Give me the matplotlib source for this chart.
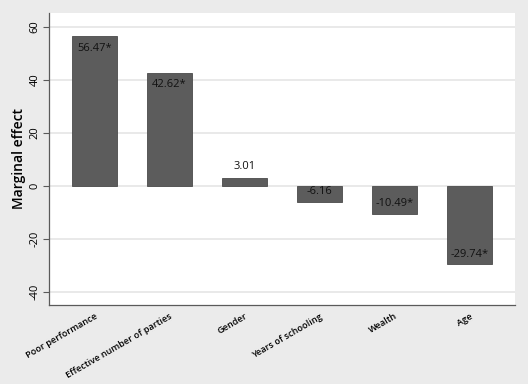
import numpy as np
import matplotlib
matplotlib.use("Agg")
import matplotlib.pyplot as plt

plt.rcParams['font.family'] = ['Open Sans', 'DejaVu Sans']

categories = ['Poor performance', 'Effective number of parties', 'Gender',
              'Years of schooling', 'Wealth', 'Age']
effects = [56.47, 42.62, 3.01, -6.16, -10.49, -29.74]
labels = ['56.47*', '42.62*', '3.01', '-6.16', '-10.49*', '-29.74*']
yticks = [-40, -20, 0, 20, 40, 60]

fig = plt.figure(figsize=(5.28, 3.84), dpi=100)
fig.patch.set_facecolor('#ebebeb')
ax = fig.add_axes([0.093, 0.206, 0.882, 0.76])
ax.set_facecolor('white')

x = np.arange(len(categories))
bars = ax.bar(x, effects, width=0.6, color='#5c5c5c', edgecolor='#4a4a4a',
              linewidth=0.6, zorder=3)

# value labels: inside the bar end, except tiny bars go outside
for xi, v, lab in zip(x, effects, labels):
    if v > 5:
        off = -8.6
    elif v >= 0:
        off = 8.0
    else:
        off = 7.3
    ax.annotate(lab, (xi, v), xytext=(0, off), textcoords='offset points',
                ha='center', va='center', fontsize=8, fontweight='medium',
                color='#111111', zorder=4)

ax.set_xlim(-0.6, 5.6)
ax.set_ylim(-45, 65.2)
ax.set_yticks(yticks)
ax.set_yticklabels([str(t) for t in yticks], rotation=90, va='center',
                   fontsize=8)
ax.grid(axis='y', color='#e3e3e3', linewidth=1.1, zorder=0)
ax.set_axisbelow(True)

ax.set_xticks(x)
ax.set_xticklabels(categories, rotation=30, ha='right',
                   rotation_mode='anchor', fontsize=6.6, fontweight='semibold')
ax.tick_params(axis='x', length=0, pad=5)
ax.tick_params(axis='y', length=4, width=0.8, color='#5a5a5a', pad=2)

ax.set_ylabel('Marginal effect', fontsize=10, fontweight='semibold', labelpad=3)

for s in ['top', 'right']:
    ax.spines[s].set_visible(False)
for s in ['left', 'bottom']:
    ax.spines[s].set_color('#5a5a5a')
    ax.spines[s].set_linewidth(0.9)

fig.savefig('out.png', dpi=100, facecolor=fig.get_facecolor())
